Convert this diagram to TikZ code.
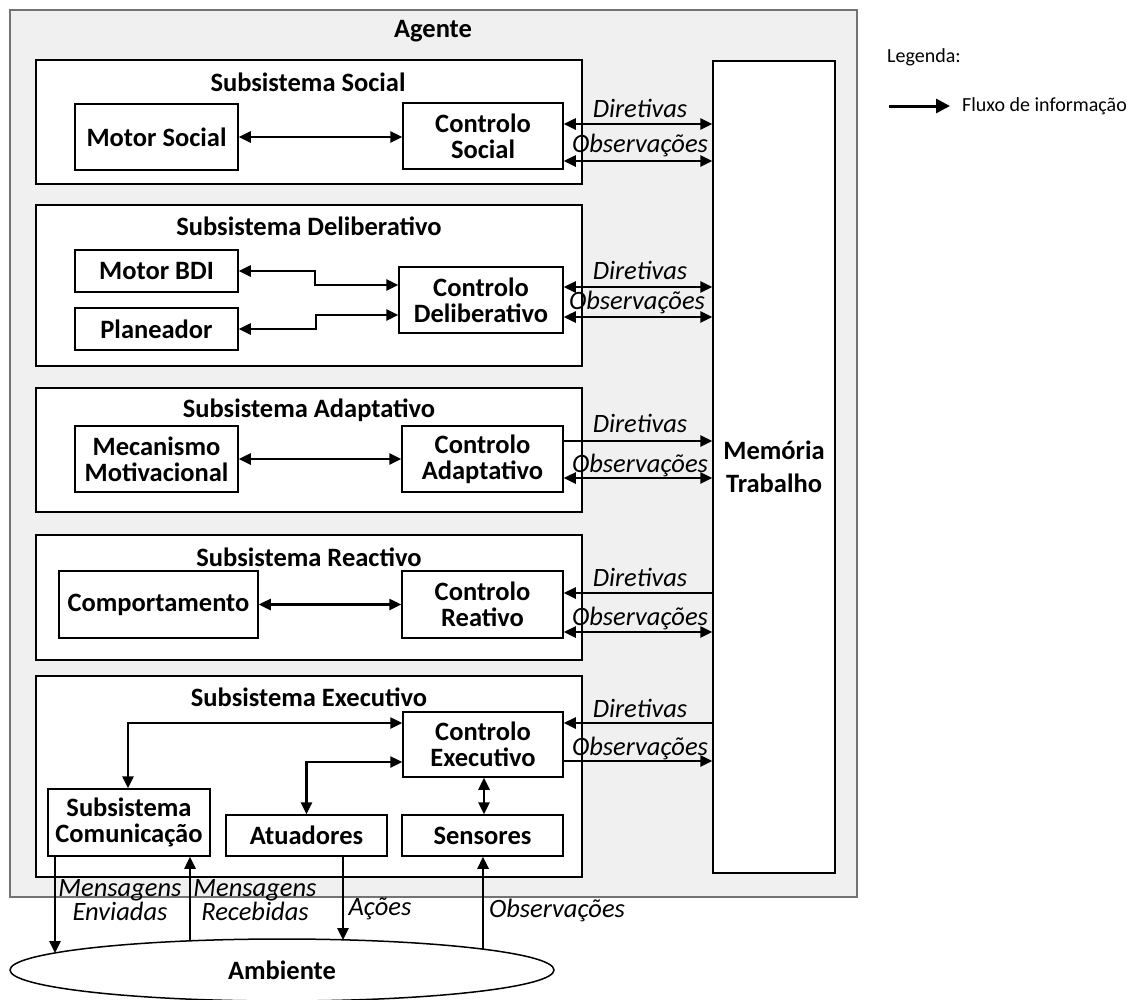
\documentclass[tikz,border=0pt]{standalone}
\usepackage{fontspec}
\setmainfont{Carlito}
\usetikzlibrary{arrows.meta,shapes.geometric}
\begin{document}
\begin{tikzpicture}[x=1pt,y=-1pt,
  box/.style={draw,line width=1.5pt,fill=white,align=center,font=\fontsize{26.5}{26}\selectfont\bfseries,inner sep=0pt},
  sub/.style={draw,line width=1.5pt,fill=white,inner sep=0pt,minimum width=546pt},
  ttl/.style={font=\fontsize{26.5}{26}\selectfont\bfseries,inner sep=0pt},
  lab/.style={font=\fontsize{26.5}{24}\selectfont\itshape,inner sep=0pt,align=center},
  tip/.tip={Triangle[length=12pt,width=11pt]},
  arr/.style={line width=2.5pt,-tip},
  darr/.style={line width=2.5pt,tip-tip}]
\useasboundingbox (0,0) rectangle (1137,999);
% agent
\node[draw=black!55,line width=1.2pt,fill=black!6,minimum width=847pt,minimum height=887pt,inner sep=0pt] (ag) at (433.5,453.5) {};
\node[ttl] (agt) at (433,31) {Agente};
% memory
\node[box,minimum width=122pt,minimum height=812pt,font=\fontsize{26.5}{33}\selectfont\bfseries] (mem) at (774,467) {Memória\\Trabalho};
% subsystems
\node[sub,minimum height=124pt] (ssoc) at (309,122) {};
\node[ttl] (tsoc) at (308,82) {Subsistema Social};
\node[sub,minimum height=161pt] (sdel) at (309,285.5) {};
\node[ttl] (tdel) at (309,226) {Subsistema Deliberativo};
\node[sub,minimum height=124pt] (sada) at (309,450) {};
\node[ttl] (tada) at (309,410) {Subsistema Adaptativo};
\node[sub,minimum height=125pt] (srea) at (309,597.5) {};
\node[ttl] (trea) at (309,557) {Subsistema Reactivo};
\node[sub,minimum height=201pt] (sexe) at (309,776.5) {};
\node[ttl] (texe) at (309,697) {Subsistema Executivo};
% social
\node[box,minimum width=163pt,minimum height=66pt] (ms) at (156.5,137) {Motor Social};
\node[box,minimum width=160pt,minimum height=66pt] (cs) at (483,136) {Controlo\\Social};
% deliberativo
\node[box,minimum width=163pt,minimum height=42pt] (bdi) at (156.5,271) {Motor BDI};
\node[box,minimum width=163pt,minimum height=42pt] (pla) at (156.5,329) {Planeador};
\node[box,minimum width=164pt,minimum height=66pt] (cd) at (481,300) {Controlo\\Deliberativo};
% adaptativo
\node[box,minimum width=163pt,minimum height=66pt] (mm) at (156.5,459) {Mecanismo\\Motivacional};
\node[box,minimum width=161pt,minimum height=66pt] (ca) at (482.5,459) {Controlo\\Adaptativo};
% reactivo
\node[box,minimum width=199pt,minimum height=67pt] (cmp) at (158.5,604.5) {Comportamento};
\node[box,minimum width=161pt,minimum height=67pt] (cr) at (482.5,604.5) {Controlo\\Reativo};
% executivo
\node[box,minimum width=160pt,minimum height=65pt] (ce) at (483,744.5) {Controlo\\Executivo};
\node[box,minimum width=162pt,minimum height=67pt] (com) at (129,822.5) {Subsistema\\Comunicação};
\node[box,minimum width=161pt,minimum height=41pt] (atu) at (306.5,835.5) {Atuadores};
\node[box,minimum width=161pt,minimum height=41pt] (sen) at (482.5,835.5) {Sensores};
% ambiente
\node[draw,ellipse,line width=1.5pt,fill=white,minimum width=544pt,minimum height=62pt,inner sep=0pt,font=\fontsize{26.5}{26}\selectfont\bfseries] (amb) at (282,970) {Ambiente};
\coordinate (e1) at (55,953);
\coordinate (e2) at (190,941);
\coordinate (e3) at (343,940);
\coordinate (e4) at (483,949);
% internal arrows
\draw[darr] (ms) -- (cs.west |- ms);
\draw[darr] (bdi.east) -- (315,271) -- (315,285) -- (cd.west |- 0,285);
\draw[darr] (pla.east) -- (316,329) -- (316,315) -- (cd.west |- 0,315);
\draw[darr] (mm) -- (ca);
\draw[darr] (cmp) -- (cr);
\draw[darr] (com.north -| 128,0) -- (128,723) -- (ce.west |- 0,723);
\draw[darr] (atu.north) -- (atu.north |- 0,762) -- (ce.west |- 0,762);
\draw[darr] (ce.south -| 484,0) -- (sen.north -| 484,0);
% memory arrows
\draw[darr] (cs.east |- 0,124) -- (mem.west |- 0,124);
\draw[darr] (cs.east |- 0,161) -- (mem.west |- 0,161);
\draw[darr] (cd.east |- 0,287) -- (mem.west |- 0,287);
\draw[darr] (cd.east |- 0,317) -- (mem.west |- 0,317);
\draw[arr] (ca.east |- 0,441) -- (mem.west |- 0,441);
\draw[darr] (ca.east |- 0,478) -- (mem.west |- 0,478);
\draw[arr] (mem.west |- 0,593) -- (cr.east |- 0,593);
\draw[darr] (cr.east |- 0,632) -- (mem.west |- 0,632);
\draw[arr] (mem.west |- 0,723) -- (ce.east |- 0,723);
\draw[arr] (ce.east |- 0,761) -- (mem.west |- 0,761);
\node[lab] (l1) at (640,108) {Diretivas};
\node[lab] (l2) at (640,145) {Observações};
\node[lab] (l3) at (640,270) {Diretivas};
\node[lab] (l4) at (637,302) {Observações};
\node[lab] (l5) at (640,423) {Diretivas};
\node[lab] (l6) at (640,465) {Observações};
\node[lab] (l7) at (640,577) {Diretivas};
\node[lab] (l8) at (640,618) {Observações};
\node[lab] (l9) at (640,708) {Diretivas};
\node[lab] (l10) at (640,748) {Observações};
% bottom arrows
\draw[arr] (com.south -| e1) -- (e1);
\draw[arr] (e2) -- (com.south -| e2);
\draw[arr] (atu.south -| e3) -- (e3);
\draw[arr] (e4) -- (sen.south -| e4);
\node[lab] (b1) at (120,900) {Mensagens\\Enviadas};
\node[lab] (b2) at (255,900) {Mensagens\\Recebidas};
\node[lab] (b3) at (380,909) {Ações};
\node[lab] (b4) at (557,910) {Observações};
% legend
\node[anchor=west,inner sep=0pt,font=\fontsize{20}{22}\selectfont] (lg) at (887,57) {Legenda:};
\coordinate (la) at (889,106);
\coordinate (lb) at (950,106);
\node[anchor=west,inner sep=0pt,font=\fontsize{20}{22}\selectfont] (lt) at (962,106) {Fluxo de informação};
\draw[line width=3pt,-{Triangle[length=14pt,width=14pt]}] (la) -- (lb);
\end{tikzpicture}
\end{document}
